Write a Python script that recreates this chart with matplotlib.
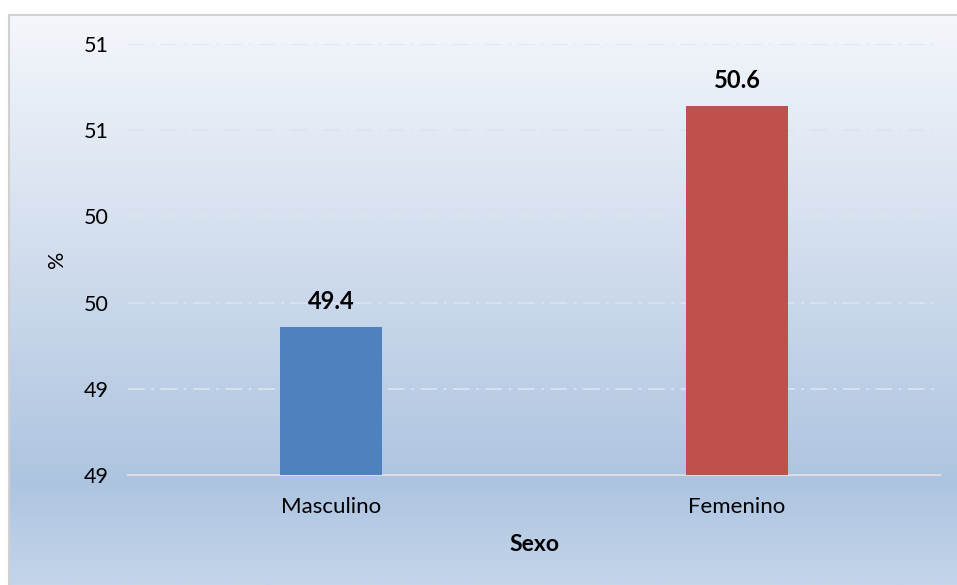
import numpy as np
import matplotlib
matplotlib.use("Agg")
import matplotlib.pyplot as plt
from matplotlib.colors import LinearSegmentedColormap

categories = ["Masculino", "Femenino"]
values = [49.36, 50.64]
value_labels = ["49.4", "50.6"]
tick_values = [48.5, 49.0, 49.5, 50.0, 50.5, 51.0]
tick_labels = ["49", "49", "50", "50", "51", "51"]
bar_colors = ["#4f81bd", "#c0504d"]

plt.rcParams['font.family'] = ['Lato', 'DejaVu Sans']

W, H = 957, 585
fig = plt.figure(figsize=(W / 100, H / 100), dpi=100)
fig.patch.set_facecolor("white")

# gradient background panel
bg = fig.add_axes([9 / W, 0, 1 - 9 / W + 0.01, (H - 15) / H])
cmap = LinearSegmentedColormap.from_list(
    "bg", [(0.0, "#c4d5ea"), (0.18, "#adc4e0"), (0.6, "#d3deee"), (1.0, "#f4f7fb")])
grad = np.linspace(0, 1, 256).reshape(-1, 1)
bg.imshow(grad, aspect="auto", cmap=cmap, origin="lower", extent=[0, 1, 0, 1])
bg.set_xlim(0, 1)
bg.set_ylim(0, 1)
bg.set_xticks([])
bg.set_yticks([])
for name, s in bg.spines.items():
    s.set_color("#d0d0d0")
    s.set_linewidth(1.5)
    if name in ("bottom", "right"):
        s.set_visible(False)

ax = fig.add_axes([128 / W, 1 - 475 / H, (940 - 128) / W, (475 - 44) / H])
ax.set_facecolor("none")
x = np.arange(len(categories))
bars = ax.bar(x, values, width=0.25, color=bar_colors, zorder=3, bottom=0)
ax.set_xlim(-0.5, 1.5)
ax.set_ylim(tick_values[0], tick_values[-1])
ax.set_yticks(tick_values)
ax.set_yticklabels(tick_labels, fontsize=15.5)
ax.set_xticks(x)
ax.set_xticklabels(categories, fontsize=16)
ax.tick_params(axis="both", length=0, colors="black")
ax.tick_params(axis="y", pad=14)
ax.tick_params(axis="x", pad=16)
for t in tick_values[1:]:
    ax.axhline(t, color="#dce5f1", linewidth=1.2, linestyle=(0, (10, 4, 1.5, 4)), zorder=1)
for s in ["top", "right", "left"]:
    ax.spines[s].set_visible(False)
ax.spines["bottom"].set_color("#dcdcdc")
ax.spines["bottom"].set_linewidth(1.5)

for xi, v, lab in zip(x, values, value_labels):
    ax.annotate(lab, (xi, v), xytext=(0, 10), textcoords="offset points",
                ha="center", va="bottom", fontsize=17, fontweight="bold")

ax.set_ylabel("%", fontsize=15.5, labelpad=12)
ax.set_xlabel("Sexo", fontsize=16.5, fontweight="bold", labelpad=12)

fig.savefig("out.png", dpi=100)
